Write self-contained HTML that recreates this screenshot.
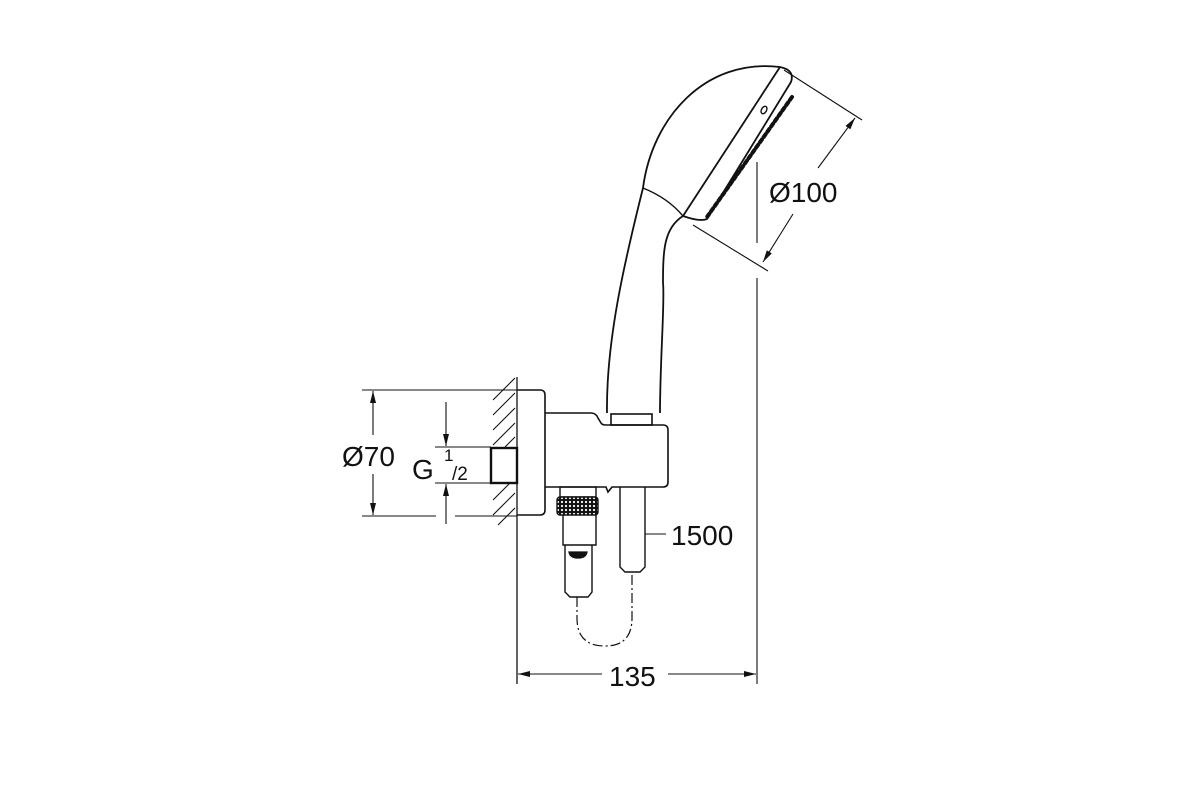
<!DOCTYPE html>
<html><head><meta charset="utf-8"><style>
html,body{margin:0;padding:0;background:#fff;width:1200px;height:800px;overflow:hidden}
svg{display:block}
text{font-family:"Liberation Sans",Arial,sans-serif;fill:#111}
</style></head><body>
<svg width="1200" height="800" viewBox="0 0 1200 800" xmlns="http://www.w3.org/2000/svg">
<defs>
<marker id="a" viewBox="0 0 12 6" refX="12" refY="3" markerWidth="12" markerHeight="6" markerUnits="userSpaceOnUse" orient="auto"><path d="M0,0 L12,3 L0,6 z" fill="#111"/></marker>
<pattern id="k" width="4" height="4" patternUnits="userSpaceOnUse"><rect width="4" height="4" fill="#111"/><circle cx="2" cy="2" r="1.1" fill="#fff"/></pattern>
</defs>
<g stroke="#111" fill="none" stroke-width="1.3">
<line x1="517" y1="377" x2="517" y2="684"/>
<g stroke-width="1.1">
<line x1="493" y1="400" x2="515" y2="378"/><line x1="493" y1="415" x2="515" y2="393"/>
<line x1="493" y1="430" x2="515" y2="408"/><line x1="493" y1="445" x2="515" y2="423"/>
<line x1="505" y1="447" x2="515" y2="437"/>
<line x1="493" y1="500" x2="510" y2="483"/><line x1="493" y1="515" x2="515" y2="493"/>
<line x1="498" y1="525" x2="515" y2="508"/>
</g>
<path d="M517 390 H540 Q545 390 545 395 V510 Q545 515 540 515 H517" stroke-width="1.6"/>
<rect x="491" y="448" width="26" height="35" stroke-width="2.4"/>
<path d="M545 413 H591 Q596 413 598 418 L601 423 Q602 425 606 425 H663 Q668 425 668 430 V482 Q668 487 663 487 H612 L608 492 L606 487 H545" stroke-width="1.6"/>
<rect x="611" y="414" width="41" height="11" stroke-width="1.6"/>
<rect x="560" y="487" width="36" height="10" stroke-width="1.4"/>
<rect x="557" y="497" width="41" height="18" rx="3" fill="url(#k)" stroke-width="1.4"/>
<path d="M563 515 V545 H596 V515" stroke-width="1.4"/>
<path d="M565 545 V592 L570 597 H588 L592 592 V545" stroke-width="1.4"/>
<path d="M569 552 H587 Q586 558 578 558 Q570 558 569 552 Z" fill="#111"/>
<path d="M620 487 V567 L625 572 H640 L645 567 V487" stroke-width="1.4"/>
<path d="M577 597 V618 Q577 646 605 646 Q632 646 632 618 V572" stroke-width="1.2" stroke-dasharray="10 3 2 3"/>
<path d="M780 67 C705 58 652 118 643 188 C625 260 606 340 607 413" stroke-width="1.8"/>
<path d="M660 413 C660 360 665 300 663 283 C663 250 664 228 683 216" stroke-width="1.8"/>
<path d="M780 67 L683 216" stroke-width="1.8"/>
<path d="M780 67 Q795 70 791 82 L707 219 Q700 222 683 216" stroke-width="1.8"/>
<path d="M643 188 Q668 198 683 216" stroke-width="1.4"/>
<path d="M792 97 L707 217" stroke-width="4" stroke-dasharray="3.5 3" stroke-linecap="round"/>
<ellipse cx="764" cy="110" rx="2.5" ry="4" transform="rotate(30 764 110)" stroke-width="1.4"/>
<line x1="784" y1="70" x2="862" y2="120" stroke-width="1.1"/>
<line x1="693" y1="225" x2="768" y2="271" stroke-width="1.1"/>
<line x1="818" y1="168" x2="855" y2="118" marker-end="url(#a)" stroke-width="1.1"/>
<line x1="793" y1="214" x2="763" y2="262" marker-end="url(#a)" stroke-width="1.1"/>
<line x1="757" y1="162" x2="757" y2="243" stroke-width="1.1"/>
<line x1="757" y1="278" x2="757" y2="684" stroke-width="1.1"/>
<line x1="602" y1="674" x2="518" y2="674" marker-end="url(#a)" stroke-width="1.1"/>
<line x1="668" y1="674" x2="756" y2="674" marker-end="url(#a)" stroke-width="1.1"/>
<line x1="645" y1="534" x2="666" y2="534" stroke-width="1.1"/>
<line x1="362" y1="390" x2="517" y2="390" stroke-width="1.1"/>
<line x1="362" y1="516" x2="436" y2="516" stroke-width="1.1"/>
<line x1="455" y1="516" x2="517" y2="516" stroke-width="1.1"/>
<line x1="373" y1="435" x2="373" y2="391" marker-end="url(#a)" stroke-width="1.1"/>
<line x1="373" y1="474" x2="373" y2="515" marker-end="url(#a)" stroke-width="1.1"/>
<line x1="435" y1="447" x2="491" y2="447" stroke-width="1.1"/>
<line x1="435" y1="483" x2="491" y2="483" stroke-width="1.1"/>
<line x1="446" y1="402" x2="446" y2="446" marker-end="url(#a)" stroke-width="1.1"/>
<line x1="446" y1="524" x2="446" y2="484" marker-end="url(#a)" stroke-width="1.1"/>
</g>
<text x="769" y="202" font-size="28">Ø100</text>
<text x="609" y="686" font-size="28">135</text>
<text x="671" y="545" font-size="28">1500</text>
<text x="342" y="466" font-size="28">Ø70</text>
<text x="412" y="479" font-size="28">G</text>
<text x="444" y="461" font-size="17">1</text>
<text x="452" y="480" font-size="19">/2</text>
</svg>
</body></html>
